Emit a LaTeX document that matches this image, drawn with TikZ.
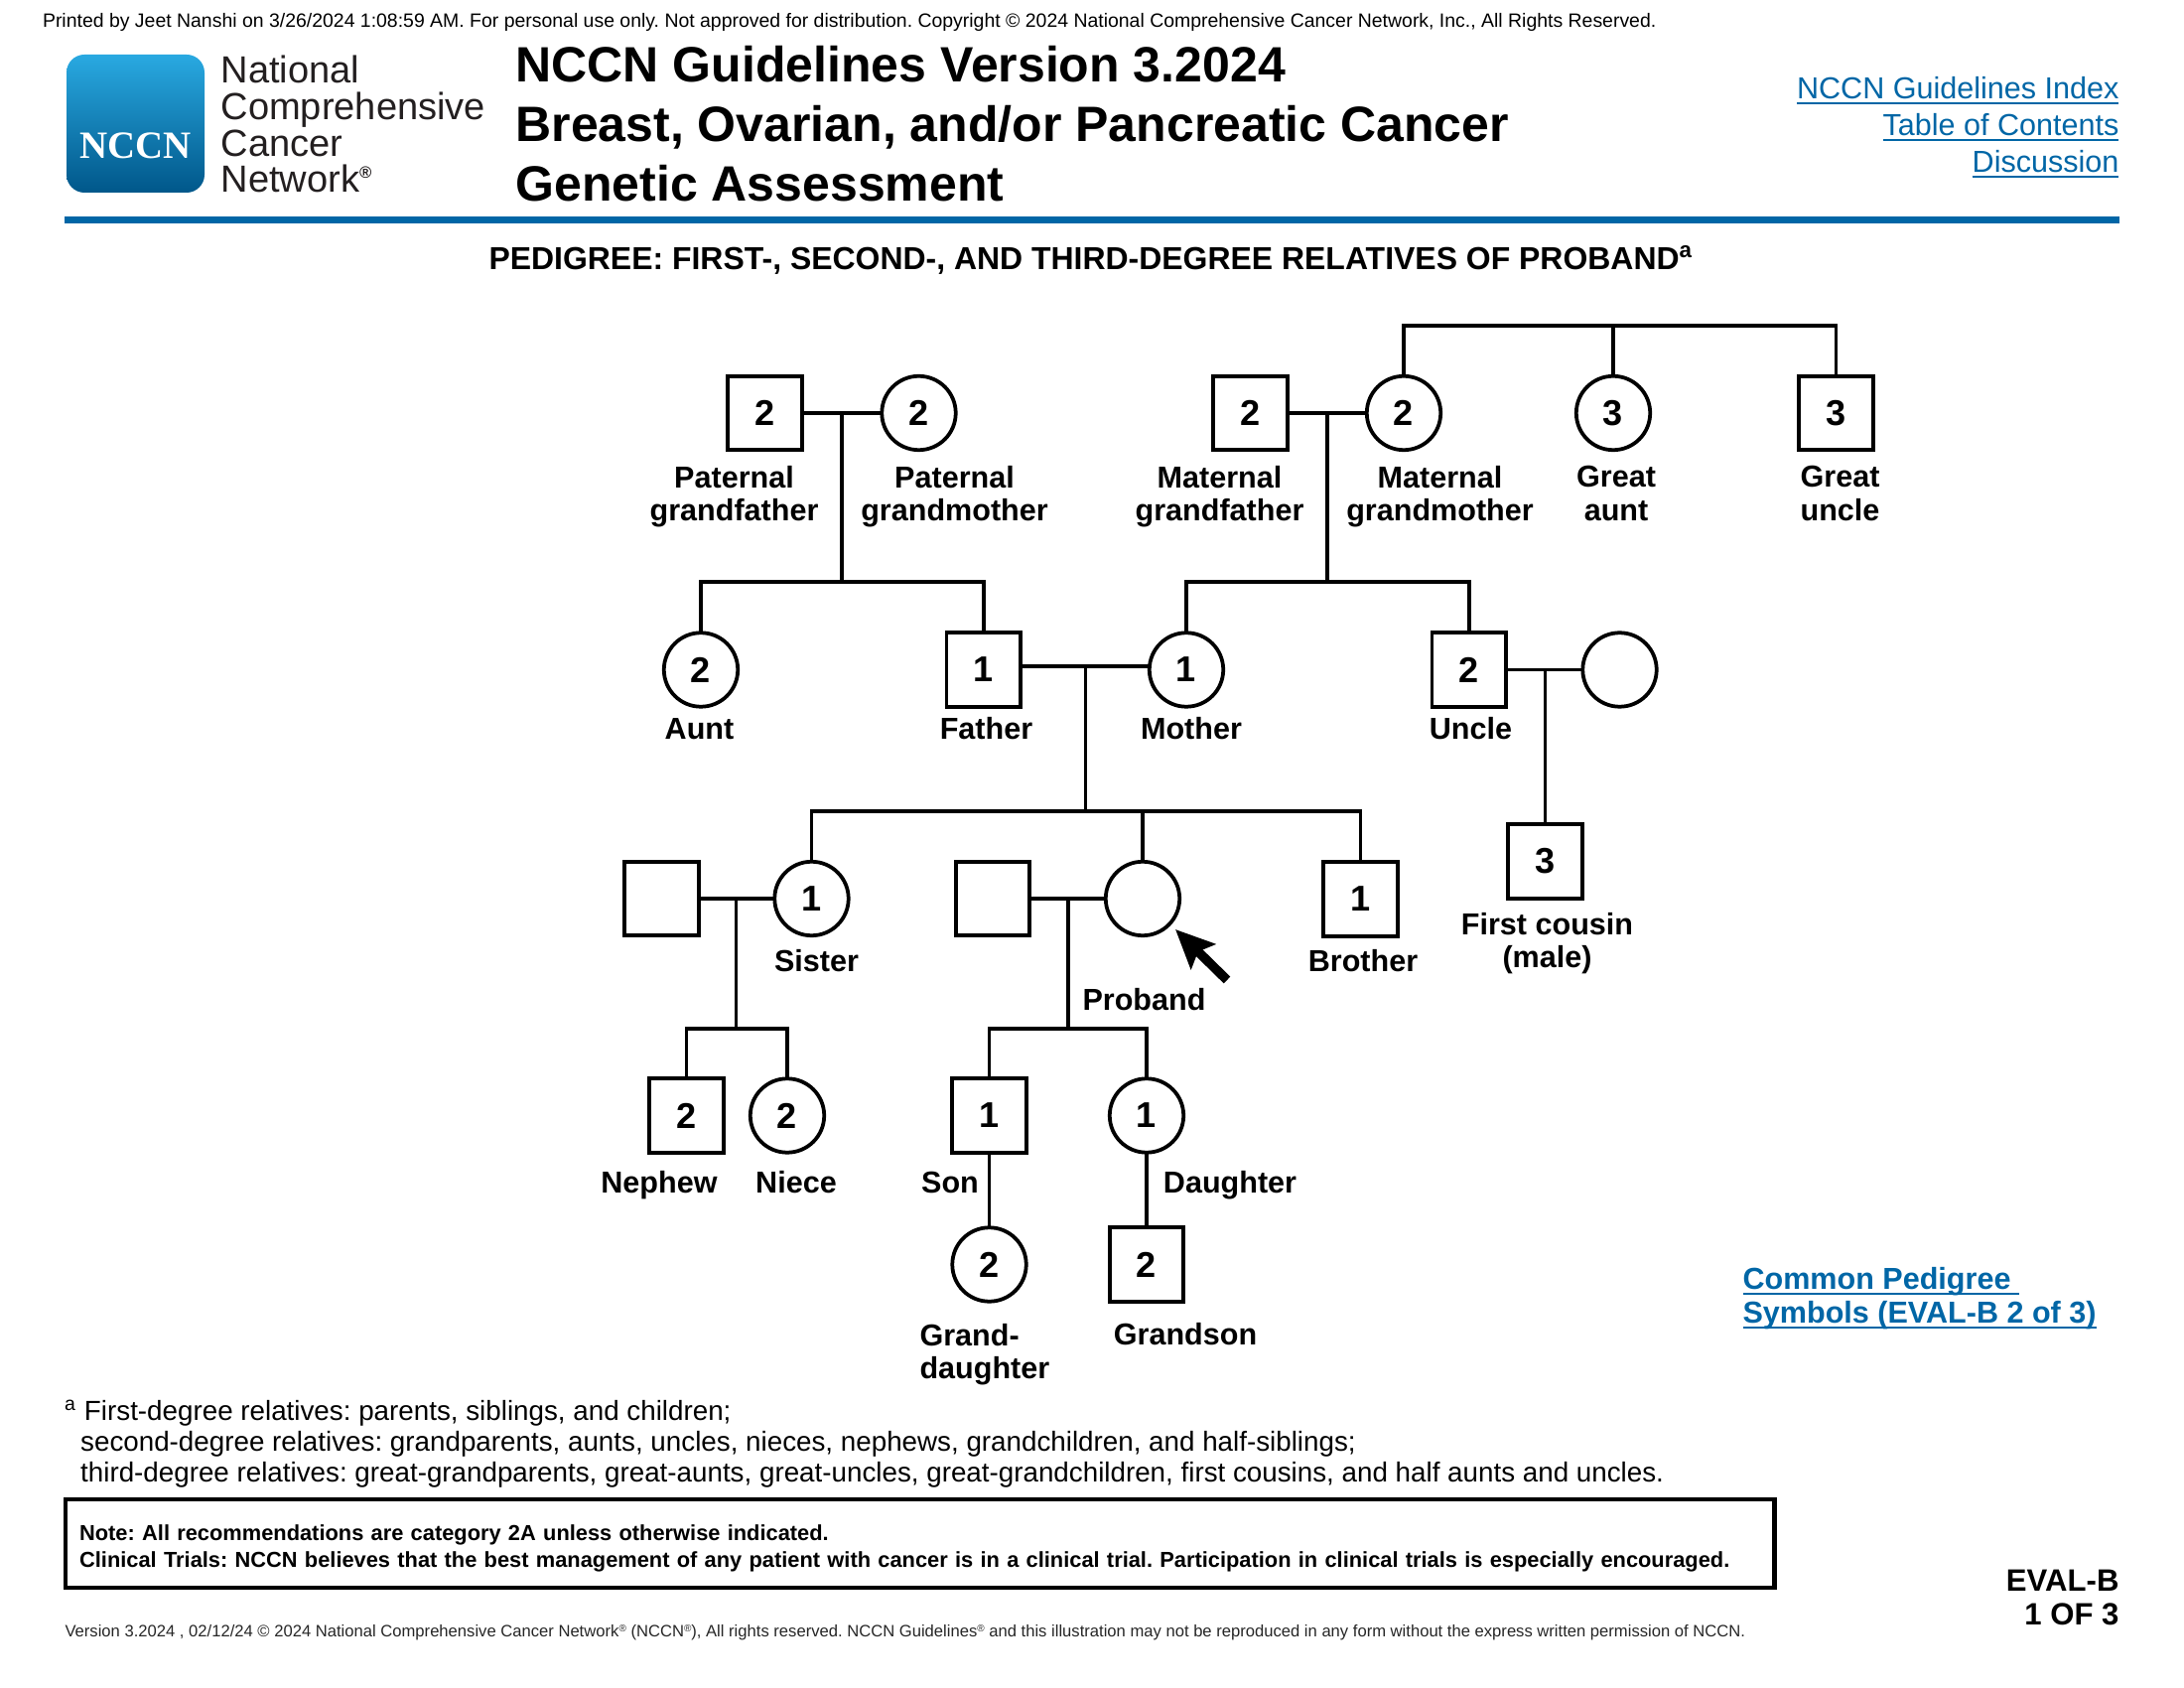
\documentclass[tikz,border=0pt]{standalone}
\usepackage{fontspec}
\setmainfont{Liberation Sans}
\newfontfamily\logofont{Liberation Serif}
\usetikzlibrary{arrows.meta}
\newcommand{\figuresize}{0.36pt}
\newcommand{\linktext}[1]{\setbox0\hbox{#1}\rlap{\rule[-2pt]{\wd0}{0.6pt}}\box0}
\newcommand{\regmark}{\raisebox{1.8pt}{\fontsize{3.6}{3.6}\selectfont ®}}
\definecolor{nccnblue}{HTML}{0066A6}
\definecolor{logotop}{HTML}{29A9E1}
\definecolor{logobottom}{HTML}{00578A}
\definecolor{logotext}{HTML}{231F20}
\tikzset{
	relative/.style={draw,line width=1.35pt,inner sep=0pt,minimum size=26.8pt,font=\fontsize{13}{13}\selectfont\bfseries},
	male/.style={relative,rectangle},
	female/.style={relative,circle},
	tie/.style={line width=1.35pt,line cap=rect},
	relname/.style={inner sep=0pt,align=center,font=\fontsize{11}{12}\selectfont\bfseries,
		execute at begin node={\rule{0pt}{8.5pt}},execute at end node={\rule[-3pt]{0pt}{3pt}}},
	logoline/.style={anchor=base west,inner sep=0pt,text=logotext,font=\fontsize{13.7}{13.7}\selectfont},
	titleline/.style={anchor=base west,inner sep=0pt,font=\fontsize{18}{18}\selectfont\bfseries},
	indexlink/.style={anchor=base east,inner sep=0pt,text=nccnblue,font=\fontsize{11}{11}\selectfont},
	pedlink/.style={anchor=base west,inner sep=0pt,text=nccnblue,font=\fontsize{11}{11}\selectfont\bfseries},
}

\begin{document}
\frenchspacing
\begin{tikzpicture}[x=\figuresize,y=-\figuresize]
	\useasboundingbox (0,0) rectangle (2200,1700);

	\node [anchor=base west,inner sep=0pt,font=\fontsize{7}{7}\selectfont] (printed) at (42.5,28) {Printed by Jeet Nanshi on 3/26/2024 1:08:59 AM. For personal use only. Not approved for distribution. Copyright © 2024 National Comprehensive Cancer Network, Inc., All Rights Reserved.};

	\shade [top color=logotop,bottom color=logobottom,rounded corners=6.5pt] (67,55) rectangle (206,194);
	\node [inner sep=0pt,text=white,font=\fontsize{14}{14}\selectfont\logofont\bfseries] (logo) at (136.5,147) {NCCN};
	\node [logoline] (logoa) at (222,84) {National};
	\node [logoline] (logob) at (222,120.7) {Comprehensive};
	\node [logoline] (logoc) at (222,157.3) {Cancer};
	\node [logoline] (logod) at (222,193.7) {Network\textsuperscript{\fontsize{6}{6}\selectfont\bfseries ®}};

	\node [titleline] (titlea) at (519,82.3) {NCCN Guidelines Version 3.2024};
	\node [titleline] (titleb) at (519,142.5) {Breast, Ovarian, and/or Pancreatic Cancer};
	\node [titleline] (titlec) at (519,202.3) {Genetic Assessment};

	\node [indexlink] (linka) at (2135,99.5) {\linktext{NCCN Guidelines Index}};
	\node [indexlink] (linkb) at (2135,136.5) {\linktext{Table of Contents}};
	\node [indexlink] (linkc) at (2135,173.5) {\linktext{Discussion}};

	\fill [nccnblue] (65,218) rectangle (2135,225);

	\node [anchor=base,inner sep=0pt,font=\fontsize{11.5}{11.5}\selectfont\bfseries] (heading) at (1099,271.5) {PEDIGREE: FIRST-, SECOND-, AND THIRD-DEGREE RELATIVES OF PROBAND\textsuperscript{a}};

	\node [male] (PGF) at (770.5,416) {2};
	\node [female] (PGM) at (925.5,416) {2};
	\node [male] (MGF) at (1259.5,416) {2};
	\node [female] (MGM) at (1414,416) {2};
	\node [female] (GA) at (1625,416) {3};
	\node [male] (GU) at (1849.5,416) {3};
	\node [female] (Aunt) at (706,674.5) {2};
	\node [male] (Father) at (990.7,674.5) {1};
	\node [female] (Mother) at (1195,674.5) {1};
	\node [male] (Uncle) at (1479.7,674.5) {2};
	\node [female] (UW) at (1631.5,674.5) {};
	\node [male] (Cousin) at (1556.5,867.5) {3};
	\node [male] (SH) at (666.5,905) {};
	\node [female] (Sister) at (817.5,905) {1};
	\node [male] (PH) at (1000,905) {};
	\node [female] (Proband) at (1151,905) {};
	\node [male] (Brother) at (1370.5,905.5) {1};
	\node [male] (Nephew) at (691.5,1123.5) {2};
	\node [female] (Niece) at (793,1123.5) {2};
	\node [male] (Son) at (996.5,1123.5) {1};
	\node [female] (Daughter) at (1155,1123.5) {1};
	\node [female] (GD) at (996.5,1273.5) {2};
	\node [male] (GS) at (1155,1273.5) {2};

	\coordinate (J1) at (848,416);
	\coordinate (B1) at (848,586);
	\coordinate (J2) at (1337,416);
	\coordinate (B2) at (1337,586);
	\coordinate (J3) at (1093.5,671);
	\coordinate (B3) at (1093.5,817);
	\coordinate (J4) at (1556.5,674.5);
	\coordinate (J5) at (741.5,905);
	\coordinate (B5) at (741.5,1036);
	\coordinate (J6) at (1076,905);
	\coordinate (B6) at (1076,1036);
	\coordinate (B7) at (1625,328);
	\coordinate (AT) at (1236,987);
	\coordinate (AH) at (1184,936);

	\draw [tie] (PGF) -- (PGM);
	\draw [tie] (MGF) -- (MGM);
	\draw [tie] (Father.east |- J3) -- (Mother.west |- J3);
	\draw [tie] (Uncle) -- (UW);
	\draw [tie] (SH) -- (Sister);
	\draw [tie] (PH) -- (Proband);
	\draw [tie] (J1) -- (B1);
	\draw [tie] (J2) -- (B2);
	\draw [tie] (J3) -- (B3);
	\draw [tie] (J4) -- (Cousin);
	\draw [tie] (J5) -- (B5);
	\draw [tie] (J6) -- (B6);
	\draw [tie] (Aunt) |- (B1) -| (Father);
	\draw [tie] (Mother) |- (B2) -| (Uncle);
	\draw [tie] (Sister) |- (B3) -| (Brother);
	\draw [tie] (Proband) -- (Proband |- B3);
	\draw [tie] (Nephew) |- (B5) -| (Niece);
	\draw [tie] (Son) |- (B6) -| (Daughter);
	\draw [tie] (Son) -- (GD);
	\draw [tie] (Daughter) -- (GS);
	\draw [tie] (MGM) |- (B7) -| (GU);
	\draw [tie] (GA) -- (B7);
	\draw [-{Stealth[length=14pt,width=12.5pt,inset=2.5pt]},line width=3.4pt] (AT) -- (AH);

	\node [relname] (nPGF) at (739.5,501) {Paternal\\grandfather};
	\node [relname] (nPGM) at (961.5,501) {Paternal\\grandmother};
	\node [relname] (nMGF) at (1228.5,501) {Maternal\\grandfather};
	\node [relname] (nMGM) at (1450.5,501) {Maternal\\grandmother};
	\node [relname] (nGA) at (1628,501) {Great\\aunt};
	\node [relname] (nGU) at (1853.5,501) {Great\\uncle};
	\node [relname] (nAunt) at (704.5,737) {Aunt};
	\node [relname] (nFather) at (993.5,737) {Father};
	\node [relname] (nMother) at (1200,737) {Mother};
	\node [relname] (nUncle) at (1481.5,737) {Uncle};
	\node [relname] (nCousin) at (1558.5,951) {First cousin\\(male)};
	\node [relname] (nSister) at (822.5,970.4) {Sister};
	\node [relname] (nProband) at (1152.5,1009.5) {Proband};
	\node [relname] (nBrother) at (1373,970.4) {Brother};
	\node [relname] (nNephew) at (664,1194.2) {Nephew};
	\node [relname] (nNiece) at (802,1194.2) {Niece};
	\node [relname] (nSon) at (957,1194.2) {Son};
	\node [relname] (nDaughter) at (1239,1194.2) {Daughter};
	\node [relname,anchor=west,align=left] (nGD) at (926,1365) {Grand-\\daughter};
	\node [relname] (nGS) at (1194,1347) {Grandson};

	\node [pedlink] (pedlinka) at (1755,1298) {\linktext{Common Pedigree }};
	\node [pedlink] (pedlinkb) at (1755,1332) {\linktext{Symbols (EVAL-B 2 of 3)}};

	\node [anchor=north west,inner sep=0pt,align=left,font=\fontsize{10}{11.16}\selectfont] (notes) at (64.5,1409.5) {\textsuperscript{a} First-degree relatives: parents, siblings, and children;\\
		\hspace*{5.8pt}second-degree relatives: grandparents, aunts, uncles, nieces, nephews, grandchildren, and half-siblings;\\
		\hspace*{5.8pt}third-degree relatives: great-grandparents, great-aunts, great-uncles, great-grandchildren, first cousins, and half aunts and uncles.};

	\node [draw,line width=1.6pt,anchor=north west,inner xsep=5pt,inner ysep=0pt,minimum height=32pt,text width=609.6pt,align=left,font=\fontsize{7.86}{9.7}\selectfont\bfseries] (notebox) at (64,1508) {\rule{0pt}{9pt}Note: All recommendations are category 2A unless otherwise indicated.\\
		Clinical Trials: NCCN believes that the best management of any patient with cancer is in a clinical trial. Participation in clinical trials is especially encouraged.};

	\node [anchor=base west,inner sep=0pt,text=black!85,font=\fontsize{5.98}{5.98}\selectfont] (version) at (65,1648.5) {Version 3.2024 , 02/12/24 © 2024 National Comprehensive Cancer Network\regmark{} (NCCN\regmark), All rights reserved. NCCN Guidelines\regmark{} and this illustration may not be reproduced in any form without the express written permission of NCCN.};

	\node [anchor=north east,inner sep=0pt,align=right,font=\fontsize{11.2}{12}\selectfont\bfseries] (page) at (2135,1581) {EVAL-B\\1 OF 3};
\end{tikzpicture}
\end{document}
